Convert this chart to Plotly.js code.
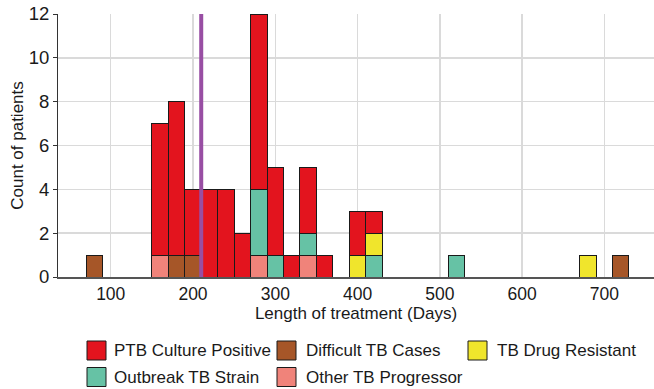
<!DOCTYPE html>
<html>
<head>
<meta charset="utf-8">
<script src="https://cdn.plot.ly/plotly-3.0.1.min.js"></script>
<style>
  html, body { margin: 0; padding: 0; background: #ffffff; }
  #chart { width: 654px; height: 389px; }
</style>
</head>
<body>
<div id="chart"></div>
<script>
// Treatment-length histogram (20-day bins), stacked by case category.
const binWidth = 20;

const categories = [
  'Other TB Progressor',
  'Difficult TB Cases',
  'Outbreak TB Strain',
  'TB Drug Resistant',
  'PTB Culture Positive'
];

// Bin centres (days) and patient counts for each category
const otherX = [160, 280, 340];
const otherY = [1, 1, 1];

const difficultX = [80, 180, 200, 720];
const difficultY = [1, 1, 1, 1];

const outbreakX = [280, 300, 340, 420, 520];
const outbreakY = [3, 1, 1, 1, 1];

const resistantX = [400, 420, 680];
const resistantY = [1, 1, 1];

const ptbX = [160, 180, 200, 220, 240, 260, 280, 300, 320, 340, 360, 400, 420];
const ptbY = [6, 7, 3, 4, 4, 2, 8, 4, 1, 3, 1, 2, 1];

// Median length of treatment (days)
const medianDays = 210;

const xTicks = [100, 200, 300, 400, 500, 600, 700];
const yTicks = [0, 2, 4, 6, 8, 10, 12];

const colors = {
  'Other TB Progressor': '#f0837a',
  'Difficult TB Cases': '#a65628',
  'Outbreak TB Strain': '#66c2a5',
  'TB Drug Resistant': '#f0e52c',
  'PTB Culture Positive': '#e3141e'
};

const seriesX = [otherX, difficultX, outbreakX, resistantX, ptbX];
const seriesY = [otherY, difficultY, outbreakY, resistantY, ptbY];

const traces = categories.map((name, i) => ({
  type: 'bar',
  name: name,
  x: seriesX[i],
  y: seriesY[i],
  width: binWidth,
  marker: { color: colors[name], line: { color: '#1a1a1a', width: 1 } },
  showlegend: false,
  hovertemplate: name + '<br>%{x} days: %{y}<extra></extra>'
}));

// Geometry of the plot area in pixels
const W = 654, H = 389;
const M = { l: 58, r: 0, t: 14, b: 112 };
const plotW = W - M.l - M.r;
const plotH = H - M.t - M.b;
const px2x = p => (p - M.l) / plotW;
const px2y = p => (H - M.b - p) / plotH;

// Legend laid out in three columns, two rows
const legendOrder = [
  'PTB Culture Positive', 'Difficult TB Cases', 'TB Drug Resistant',
  'Outbreak TB Strain', 'Other TB Progressor'
];
const colSwatch = [87, 277, 468];
const colText = [112, 304, 495];
const rowCenter = [350.5, 377];
const sw = 19;

const shapes = [{
  type: 'line', xref: 'x', yref: 'paper',
  x0: medianDays, x1: medianDays, y0: 0, y1: 1,
  line: { color: '#984ea3', width: 4 }, layer: 'above'
}];
const annotations = [];

legendOrder.forEach((name, k) => {
  const c = k % 3, r = Math.floor(k / 3);
  const cy = rowCenter[r];
  shapes.push({
    type: 'rect', xref: 'paper', yref: 'paper',
    x0: px2x(colSwatch[c]), x1: px2x(colSwatch[c] + sw),
    y0: px2y(cy + sw / 2), y1: px2y(cy - sw / 2),
    fillcolor: colors[name], line: { color: '#1a1a1a', width: 1 }
  });
  annotations.push({
    xref: 'paper', yref: 'paper',
    x: px2x(colText[c]), y: px2y(cy),
    xanchor: 'left', yanchor: 'middle',
    text: name, showarrow: false,
    font: { size: 17, color: '#1a1a1a' }
  });
});

const layout = {
  width: W, height: H,
  margin: M,
  paper_bgcolor: '#ffffff',
  plot_bgcolor: '#ffffff',
  font: { family: 'Liberation Sans, Arial, sans-serif', size: 17, color: '#1a1a1a' },
  barmode: 'stack',
  showlegend: false,
  xaxis: {
    range: [35.9, 760.4],
    tickvals: xTicks,
    ticktext: xTicks.map(String),
    ticks: '',
    showgrid: true, gridcolor: '#dadada', gridwidth: 1.5,
    zeroline: false,
    showline: true, linecolor: '#555555', linewidth: 2,
    tickfont: { size: 17.5, color: '#1a1a1a' },
    title: { text: 'Length of treatment (Days)', font: { size: 17 }, standoff: 3 },
    automargin: false
  },
  yaxis: {
    range: [0, 12],
    tickvals: yTicks,
    ticks: 'outside', ticklen: 4, tickcolor: '#333333', tickwidth: 1,
    showgrid: true, gridcolor: '#dadada', gridwidth: 1.5,
    zeroline: false,
    showline: true, linecolor: '#333333', linewidth: 1,
    tickfont: { size: 18.5, color: '#1a1a1a' },
    title: { text: 'Count of patients', font: { size: 17 }, standoff: 0 },
    automargin: false
  },
  shapes: shapes,
  annotations: annotations
};

Plotly.newPlot('chart', traces, layout, { displayModeBar: false, staticPlot: true });
</script>
</body>
</html>
